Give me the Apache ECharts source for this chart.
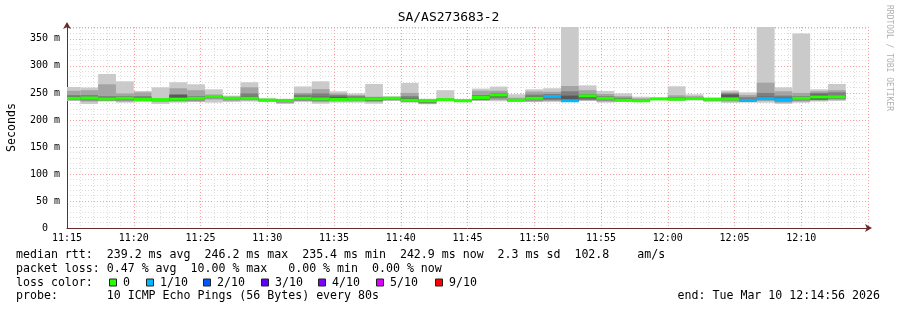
<!DOCTYPE html>
<html><head><meta charset="utf-8">
<script src="https://cdn.jsdelivr.net/npm/echarts@6/dist/echarts.min.js"></script>
<style>html,body{margin:0;padding:0;background:#fff}#c{width:897px;height:310px}</style>
</head><body><div id="c"></div>
<script>
// bar end times (80 s steps)
const times = ['11:16:00','11:17:20','11:18:40','11:20:00','11:21:20','11:22:40','11:24:00','11:25:20','11:26:40','11:28:00',
'11:29:20','11:30:40','11:32:00','11:33:20','11:34:40','11:36:00','11:37:20','11:38:40','11:40:00','11:41:20',
'11:42:40','11:44:00','11:45:20','11:46:40','11:48:00','11:49:20','11:50:40','11:52:00','11:53:20','11:54:40',
'11:56:00','11:57:20','11:58:40','12:00:00','12:01:20','12:02:40','12:04:00','12:05:20','12:06:40','12:08:00',
'12:09:20','12:10:40','12:12:00','12:13:20'];
// ping distribution (ms), sorted bands
const pMax = [261,260,285,271.5,253.6,260.4,269.7,266,256.7,245,269.7,240,239,262,271.5,253,249,266.6,244,268.5,239,255,238,258,261.7,247.5,256.7,258.6,372,264,253.6,249,243,241.3,262.3,247.5,241,254.5,251,372,260.4,360.2,256.7,266.6];
const pHi2 = [254,255,266,249,251,240,258.6,255,247,243,260.4,239,238,250,257,249,246,243,242,250,238,240,237.5,254,254,241,252.5,252,262.8,255,248,244,240,240.5,245.6,244,240,251,246,269,253,250,253,255];
const pHi3 = [246,246,244,244,244,239,248,244,245,242,249,238.5,237.5,247,249,246,244,242,241.5,244,237,239,237,246,250,239,247,248,253,248,244,241,238,240,242,242,239.5,249,242,250,245,244,250,251];
const pHi4 = [243,242,242,242,240,238.5,246,242,244.5,241,243,238,237,243,243,243,241,241,241,240,236.5,238.5,236.5,243,247,238,243,245,245,246,242,239,237,239.5,240,241,239,247,238,243,241,242,247,246];
const median = [240,240.5,239,240,238,237.5,238.5,240,243.5,240,240,236.7,236,240,239,238,238.5,239,240,236.5,235.5,237.5,235.5,241.5,246.2,236.5,240,243.5,235.5,244.5,240,236.5,235.5,239,238.5,239.5,238.5,239,236,239.5,237.5,240,242.5,242.9];
const pLo4 = [238,239,237,237,237,236,236,238,242,239,239,236,234,237,237,237,237,236,238,235,233,237,235,239,243,235.5,238,240,234.5,240,238,235.5,235,238,237.5,239,237,238,235.5,238,236,238,238,241];
const pLo3 = [237,236,236,236,236,235,235,236,240,237,237,235,233,236,235,236,236,235,237,234,231,236,234.5,237,240,235,236,237,234,237,236,235,234.5,237.5,237,238.5,236,236,235,237,234,236,237,239];
const pLo2 = [236,234,235,234,235,233,234,234,238,235,236,234,231,235,233,234,234,233,236,233,230,235.5,234,236,237,234,234,235,233.5,236,234,234,234,237,236,238,235,234,234,235,232,234,236,237];
const pMin = [235,229.5,234,232,233,229.6,232,233,232,233,234,233,229.6,233,230,232,232,230,235,232,229,235,233,235,234.5,233,233,233,233,235,232,233,233,236.5,235,236,233,231.5,232,232,229.6,232,234,235];
const lossTenths = [0,0,0,0,0,0,0,0,0,0,0,0,0,0,0,0,0,0,0,0,0,0,0,0,0,0,0,1,1,0,0,0,0,0,0,0,0,0,1,1,1,0,0,0];
const yTicks = [0,50,100,150,200,250,300,350];
const xTickLabels = ['11:15','11:20','11:25','11:30','11:35','11:40','11:45','11:50','11:55','12:00','12:05','12:10'];
const lossLabels = ['0','1/10','2/10','3/10','4/10','5/10','9/10'];
const lossColors = ['#26ff00','#00b8ff','#0059ff','#5e00ff','#7e00ff','#dd00ff','#ff0000'];
const smokeColors = ['#cacaca','#a4a4a4','#7e7e7e','#585858'];

const stepMin = 80/60;
function toMin(s){const p=s.split(':').map(Number);return (p[0]-11)*60+p[1]-15+(p[2]||0)/60;}

function bandSeries(lo, hi, color){
  return {
    type:'custom', silent:true, animation:false,
    data: times.map((t,k)=>[toMin(t)-stepMin, toMin(t), lo[k], hi[k]]),
    renderItem:function(params, api){
      const cs = params.coordSys;
      const a = api.coord([api.value(0), api.value(2)]);
      const b = api.coord([api.value(1), api.value(3)]);
      let x = Math.max(a[0], cs.x), w = b[0]-x;
      let y = b[1], h = a[1]-b[1];
      if (y < cs.y){ h -= (cs.y-y); y = cs.y; }
      if (w<=0||h<=0) return null;
      return {type:'rect', shape:{x:x,y:y,width:w,height:Math.max(h,0.5)}, style:{fill:color}};
    }
  };
}
function medianSeries(){
  return {
    type:'custom', silent:true, animation:false,
    data: times.map((t,k)=>[toMin(t)-stepMin, toMin(t), median[k], lossTenths[k]]),
    renderItem:function(params, api){
      const cs = params.coordSys;
      const a = api.coord([api.value(0), api.value(2)]);
      const b = api.coord([api.value(1), api.value(2)]);
      const x = Math.max(a[0], cs.x);
      const lt = api.value(3);
      const idx = lt>=9?6:Math.min(lt,5);
      return {type:'rect', shape:{x:x,y:a[1]-1.5,width:b[0]-x,height:3}, style:{fill:lossColors[idx]}};
    }
  };
}

const mono = 'DejaVu Sans Mono';
const chart = echarts.init(document.getElementById('c'), null, {renderer:'canvas'});
const series = [
  bandSeries(pMin, pMax, smokeColors[0]),
  bandSeries(pLo2, pHi2, smokeColors[1]),
  bandSeries(pLo3, pHi3, smokeColors[2]),
  bandSeries(pLo4, pHi4, smokeColors[3]),
  medianSeries()
];

const legendY = [255, 268.5, 282.5, 296];
const line1 = 'median rtt:  239.2 ms avg  246.2 ms max  235.4 ms min  242.9 ms now  2.3 ms sd  102.8    am/s';
const line2 = 'packet loss: 0.47 % avg  10.00 % max   0.00 % min  0.00 % now';
const line4 = 'probe:       10 ICMP Echo Pings (56 Bytes) every 80s';
const endText = 'end: Tue Mar 10 12:14:56 2026';
const swatchX = [109,146,203,261,318,376,435];

const graphics = [
  {type:'text', left:'center', top:11, style:{text:'SA/AS273683-2', font:'13px '+mono, fill:'#000'}},
  {type:'text', x:16, y:legendY[0], style:{text:line1, font:'11.6px '+mono, fill:'#000', textVerticalAlign:'middle'}},
  {type:'text', x:16, y:legendY[1], style:{text:line2, font:'11.6px '+mono, fill:'#000', textVerticalAlign:'middle'}},
  {type:'text', x:16, y:legendY[2], style:{text:'loss color:', font:'11.6px '+mono, fill:'#000', textVerticalAlign:'middle'}},
  {type:'text', x:16, y:legendY[3], style:{text:line4, font:'11.6px '+mono, fill:'#000', textVerticalAlign:'middle'}},
  {type:'text', x:880, y:legendY[3], style:{text:endText, font:'11.6px '+mono, fill:'#000', textVerticalAlign:'middle', textAlign:'right'}},
  {type:'text', x:889, y:5, rotation:-Math.PI/2, style:{text:'RRDTOOL / TOBI OETIKER', font:'8px '+mono, fill:'#b0b0b0', textVerticalAlign:'middle'}}
];
lossLabels.forEach((lab,i)=>{
  graphics.push({type:'rect', shape:{x:swatchX[i]+0.5,y:legendY[2]-3.5,width:7,height:7}, style:{fill:lossColors[i], stroke:'#222', lineWidth:1}});
  graphics.push({type:'text', x:swatchX[i]+14, y:legendY[2], style:{text:lab, font:'11.6px '+mono, fill:'#000', textVerticalAlign:'middle'}});
});

chart.setOption({
  backgroundColor:'#ffffff',
  animation:false,
  grid:{left:67, right:29, top:27, bottom:82, containLabel:false, outerBoundsMode:'none'},
  xAxis:{
    type:'value', min:0, max:60, interval:5,
    axisLine:{show:true, onZero:false, symbol:['none','arrow'], symbolSize:[6,7], symbolOffset:[0,4], lineStyle:{color:'#6b2a2a', width:1}},
    axisTick:{show:false},
    axisLabel:{color:'#000', fontFamily:mono, fontSize:10, margin:5, showMaxLabel:false,
      formatter:function(v){const i=Math.round(v/5);return xTickLabels[i]!==undefined?xTickLabels[i]:'';}},
    splitLine:{show:true, lineStyle:{color:'#f2a0a0', type:[1,2], width:1}},
    minorTick:{show:false, splitNumber:5},
    minorSplitLine:{show:true, lineStyle:{color:'#dcdcdc', type:[1,2], width:1}}
  },
  yAxis:{
    type:'value', min:0, max:372, interval:50,
    name:'Seconds', nameLocation:'middle', nameRotate:90, nameGap:49,
    nameTextStyle:{fontFamily:mono, fontSize:11.6, color:'#000'},
    axisLine:{show:true, symbol:['none','arrow'], symbolSize:[6,7], symbolOffset:[0,5], lineStyle:{color:'#6b2a2a', width:1}},
    axisTick:{show:false},
    axisLabel:{color:'#000', fontFamily:mono, fontSize:10, margin:7, showMaxLabel:false,
      formatter:function(v){return yTicks.indexOf(v)<0?'':(v===0?'0  ':v+' m');}},
    splitLine:{show:true, lineStyle:{color:'#f2a0a0', type:[1,2], width:1}},
    minorTick:{show:false, splitNumber:5},
    minorSplitLine:{show:true, lineStyle:{color:'#dcdcdc', type:[1,2], width:1}}
  },
  series:series,
  graphic:graphics
});
</script></body></html>
